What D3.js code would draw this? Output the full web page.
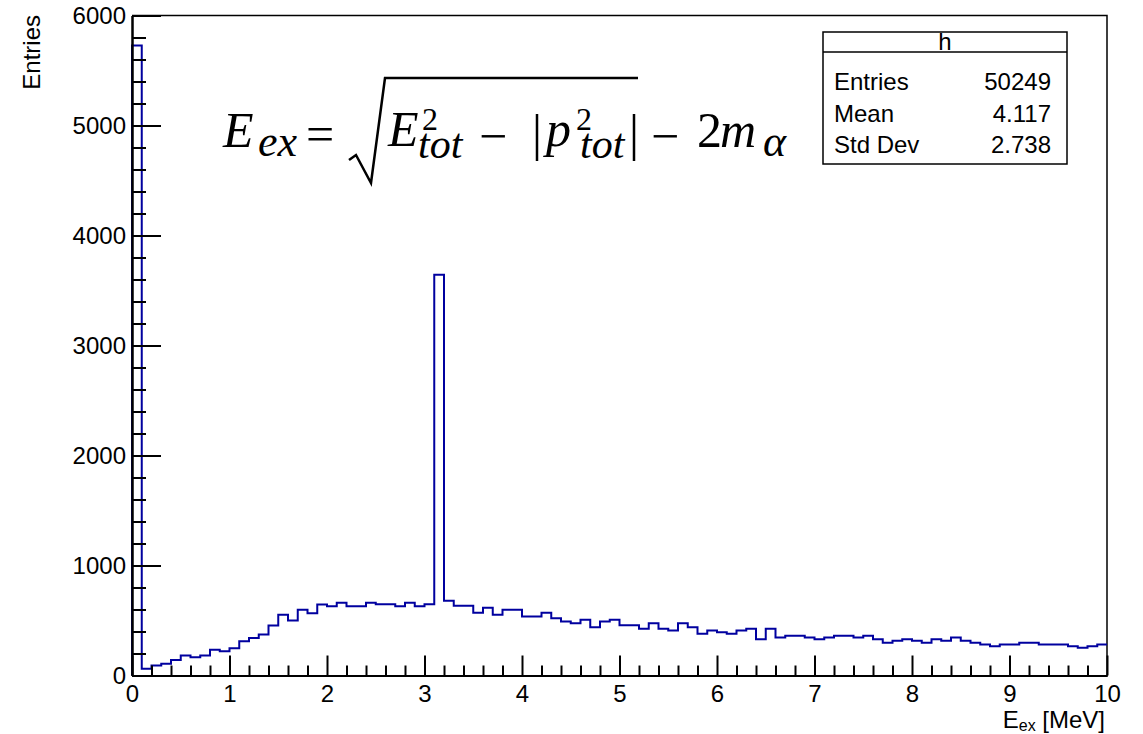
<!DOCTYPE html>
<html>
<head>
<meta charset="utf-8">
<script src="https://cdn.jsdelivr.net/npm/d3@7"></script>
<style>
  body { margin: 0; background: #fff; }
  svg { display: block; }
  .axis text { font-family: "Liberation Sans", Arial, sans-serif; font-size: 24px; fill: #000; }
  .axis line, .axis path { stroke: #000; stroke-width: 2; }
</style>
</head>
<body>
<div id="chart"></div>
<script>
// histogram h : 100 bins from 0 to 10 MeV
const binLow = 0;
const binHigh = 10;
const counts = [
  5727, 61, 91, 106, 142, 182, 167, 182, 233, 221,
  248, 312, 342, 373, 455, 552, 500, 597, 567, 645,
  630, 661, 630, 630, 661, 648, 648, 630, 661, 630,
  648, 3643, 679, 633, 633, 570, 615, 552, 597, 597,
  536, 536, 570, 521, 491, 476, 506, 439, 491, 506,
  457, 457, 424, 476, 424, 409, 476, 439, 379, 409,
  394, 379, 409, 424, 330, 424, 345, 361, 361, 345,
  330, 345, 361, 361, 345, 361, 330, 297, 315, 330,
  315, 297, 330, 315, 345, 315, 297, 282, 267, 282,
  282, 297, 297, 282, 282, 282, 267, 252, 267, 282
];
const xTicks = [0, 1, 2, 3, 4, 5, 6, 7, 8, 9, 10];
const yTicks = [0, 1000, 2000, 3000, 4000, 5000, 6000];
const statLabels = ["Entries", "Mean", "Std Dev"];
const statValues = ["50249", "4.117", "2.738"];

const width = 1143, height = 734;
const svg = d3.select("#chart").append("svg")
  .attr("width", width)
  .attr("height", height);

const x = d3.scaleLinear().domain([binLow, binHigh]).range([132, 1107]);
const y = d3.scaleLinear().domain([0, 6000]).range([675.5, 15.5]);
const binWidth = (binHigh - binLow) / counts.length;

// frame (top / right)
svg.append("path")
  .attr("d", `M${x(0)},${y(6000)}H${x(10)}V${y(0)}`)
  .attr("fill", "none")
  .attr("stroke", "#000")
  .attr("stroke-width", 1.5);

// histogram outline
let d = `M${x(binLow)},${y(0)}`;
counts.forEach((c, i) => {
  d += `V${y(c)}H${x(binLow + (i + 1) * binWidth)}`;
});
svg.append("path")
  .attr("d", d)
  .attr("fill", "none")
  .attr("stroke", "#00009f")
  .attr("stroke-width", 2);

// minor ticks
const xMinor = d3.range(0, 50).map(i => i * 0.2).filter(v => Math.abs(v - Math.round(v)) > 1e-6);
const yMinor = d3.range(0, 30).map(i => i * 200).filter(v => v % 1000 !== 0);

svg.append("g").attr("class", "axis")
  .attr("transform", `translate(0,${y(0)})`)
  .call(d3.axisBottom(x).tickValues(xMinor).tickSize(-10).tickSizeOuter(0).tickFormat(""));
svg.append("g").attr("class", "axis")
  .attr("transform", `translate(${x(0)},0)`)
  .call(d3.axisLeft(y).tickValues(yMinor).tickSize(-14).tickSizeOuter(0).tickFormat(""));

// major ticks + labels
svg.append("g").attr("class", "axis")
  .attr("transform", `translate(0,${y(0)})`)
  .call(d3.axisBottom(x).tickValues(xTicks).tickSize(-20).tickSizeOuter(0).tickPadding(9).tickFormat(d3.format("d")));
svg.append("g").attr("class", "axis")
  .attr("transform", `translate(${x(0)},0)`)
  .call(d3.axisLeft(y).tickValues(yTicks).tickSize(-29).tickSizeOuter(0).tickPadding(6).tickFormat(d3.format("d")));

// axis titles
const xTitle = svg.append("text")
  .attr("x", 1105)
  .attr("y", 728)
  .attr("text-anchor", "end")
  .attr("font-family", "Liberation Sans, Arial, sans-serif")
  .attr("font-size", 24);
xTitle.append("tspan").text("E");
xTitle.append("tspan").attr("font-size", 16).attr("dy", 3).text("ex");
xTitle.append("tspan").attr("dy", -3).text(" [MeV]");

svg.append("text")
  .attr("transform", "translate(40,15) rotate(-90)")
  .attr("text-anchor", "end")
  .attr("font-family", "Liberation Sans, Arial, sans-serif")
  .attr("font-size", 24)
  .text("Entries");

// stats box
const box = svg.append("g");
box.append("rect")
  .attr("x", 823).attr("y", 32).attr("width", 244).attr("height", 132)
  .attr("fill", "#fff").attr("stroke", "#000").attr("stroke-width", 1.5);
box.append("line")
  .attr("x1", 823).attr("x2", 1067).attr("y1", 52).attr("y2", 52)
  .attr("stroke", "#000").attr("stroke-width", 1.5);
box.append("text")
  .attr("x", 945).attr("y", 50)
  .attr("text-anchor", "middle")
  .attr("font-family", "Liberation Sans, Arial, sans-serif")
  .attr("font-size", 24)
  .text("h");
statLabels.forEach((lab, i) => {
  const yy = 90 + i * 31.7;
  box.append("text")
    .attr("x", 834).attr("y", yy)
    .attr("font-family", "Liberation Sans, Arial, sans-serif")
    .attr("font-size", 24)
    .text(lab);
  box.append("text")
    .attr("x", 1051).attr("y", yy)
    .attr("text-anchor", "end")
    .attr("font-family", "Liberation Sans, Arial, sans-serif")
    .attr("font-size", 24)
    .text(statValues[i]);
});

// formula annotation
const formula = svg.append("g")
  .attr("font-family", "Liberation Serif, Times New Roman, serif")
  .attr("fill", "#000");
const pieces = [
  ["E", 223, 147, 50, "italic"],
  ["ex", 258, 156, 44, "italic"],
  ["=", 306, 151, 50, "normal"],
  ["E", 388, 146, 50, "italic"],
  ["2", 422, 130, 32, "normal"],
  ["tot", 418, 158, 42, "italic"],
  ["\u2212", 479, 153, 50, "normal"],
  ["p", 546, 146, 50, "italic"],
  ["2", 576, 130, 32, "normal"],
  ["tot", 580, 158, 42, "italic"],
  ["\u2212", 651, 153, 50, "normal"],
  ["2", 697, 147, 50, "normal"],
  ["m", 720, 147, 50, "italic"],
  ["\u03b1", 763, 156, 44, "italic"]
];
pieces.forEach(p => {
  formula.append("text")
    .attr("x", p[1]).attr("y", p[2])
    .attr("font-size", p[3])
    .attr("font-style", p[4])
    .text(p[0]);
});
formula.append("path")
  .attr("d", "M349,160L356,155L371,183L385,78H638")
  .attr("fill", "none")
  .attr("stroke", "#000")
  .attr("stroke-width", 2.5)
  .attr("stroke-linejoin", "miter");
[537, 634].forEach(bx => {
  formula.append("line")
    .attr("x1", bx).attr("x2", bx)
    .attr("y1", 114).attr("y2", 161)
    .attr("stroke", "#000")
    .attr("stroke-width", 2.5);
});
</script>
</body>
</html>
